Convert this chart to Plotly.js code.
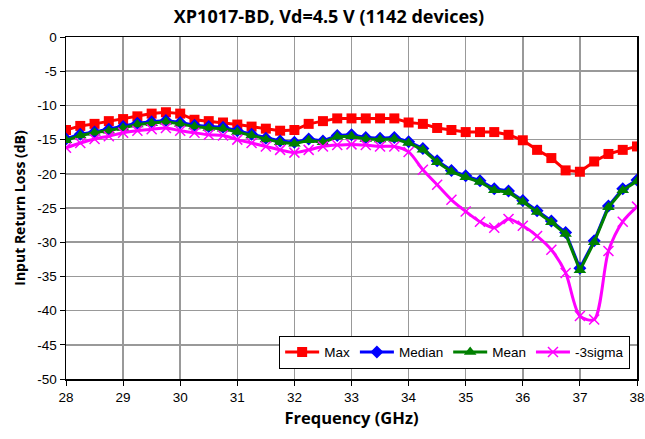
<!DOCTYPE html>
<html>
<head>
<meta charset="utf-8">
<script src="https://cdn.plot.ly/plotly-3.0.1.min.js"></script>
<style>html,body{margin:0;padding:0;background:#fff;}#chart{width:645px;height:439px;}</style>
</head>
<body>
<div id="chart"></div>
<script>
const freq = [28,28.25,28.5,28.75,29,29.25,29.5,29.75,30,30.25,30.5,30.75,31,31.25,31.5,31.75,32,32.25,32.5,32.75,33,33.25,33.5,33.75,34,34.25,34.5,34.75,35,35.25,35.5,35.75,36,36.25,36.5,36.75,37,37.25,37.5,37.75,38];
const maxVals = [-13.6,-13.0,-12.7,-12.3,-12.0,-11.6,-11.2,-11.0,-11.2,-12.1,-12.3,-12.5,-12.8,-13.1,-13.4,-13.7,-13.6,-12.7,-12.3,-11.9,-11.9,-11.9,-11.9,-11.9,-12.5,-12.7,-13.3,-13.6,-13.9,-13.9,-13.9,-14.3,-15.1,-16.5,-17.7,-19.5,-19.7,-18.2,-17.1,-16.5,-16.0];
const medianVals = [-14.9,-14.2,-13.9,-13.5,-13.1,-12.6,-12.4,-12.2,-12.5,-12.9,-13.1,-13.2,-13.7,-14.2,-14.8,-15.2,-15.4,-14.9,-15.2,-14.4,-14.3,-14.7,-14.8,-14.7,-15.3,-16.3,-18.1,-19.5,-20.3,-21.0,-22.2,-22.5,-23.9,-25.4,-26.9,-28.6,-33.8,-29.8,-24.7,-22.2,-20.9];
const meanVals = [-15.1,-14.4,-14.0,-13.7,-13.3,-12.8,-12.6,-12.4,-12.7,-13.1,-13.3,-13.4,-13.9,-14.4,-15.0,-15.4,-15.6,-15.1,-15.4,-14.6,-14.5,-14.9,-15.0,-14.9,-15.5,-16.5,-18.3,-19.7,-20.5,-21.2,-22.4,-22.7,-24.1,-25.6,-27.1,-28.8,-34.1,-30.0,-24.9,-22.4,-21.1];
const sigmaVals = [-16.2,-15.5,-14.9,-14.5,-14.0,-13.7,-13.5,-13.3,-13.7,-14.0,-14.3,-14.4,-15.0,-15.5,-16.0,-16.5,-16.9,-16.5,-16.0,-15.8,-15.7,-15.8,-16.0,-16.0,-16.8,-19.4,-21.6,-23.8,-25.5,-27.0,-27.9,-26.6,-27.6,-29.1,-31.1,-34.5,-40.8,-41.3,-31.3,-27.0,-24.8];
const seriesNames = ['Max','Median','Mean','-3sigma'];
const xTicks = [28,29,30,31,32,33,34,35,36,37,38];
const yTicks = [0,-5,-10,-15,-20,-25,-30,-35,-40,-45,-50];

const traces = [
  {x: freq, y: maxVals, name: seriesNames[0], mode: 'lines+markers',
   line: {color: '#ff0000', width: 3}, marker: {symbol: 'square', size: 10, color: '#ff0000'}},
  {x: freq, y: medianVals, name: seriesNames[1], mode: 'lines+markers',
   line: {color: '#0000ff', width: 3}, marker: {symbol: 'diamond', size: 10, color: '#0000ff'}},
  {x: freq, y: meanVals, name: seriesNames[2], mode: 'lines+markers',
   line: {color: '#008000', width: 3}, marker: {symbol: 'triangle-up', size: 11, color: '#008000'}},
  {x: freq, y: sigmaVals, name: seriesNames[3], mode: 'lines+markers',
   line: {color: '#ff00ff', width: 3, shape: 'spline', smoothing: 0.8},
   marker: {symbol: 'x-thin-open', size: 10, color: '#ff00ff', line: {color: '#ff00ff', width: 1.5}}}
];

const titleFont = 'Open Sans, Noto Sans, sans-serif';
const layout = {
  width: 645, height: 439,
  margin: {l: 66, r: 8, t: 37, b: 60},
  paper_bgcolor: '#fff', plot_bgcolor: '#fff',
  font: {family: 'Liberation Sans, Arial, sans-serif', size: 13, color: '#000'},
  title: {text: 'XP1017-BD, Vd=4.5 V (1142 devices)', x: 0.51, xanchor: 'center', y: 0.962, yanchor: 'middle',
          font: {family: titleFont, size: 18, color: '#000', weight: 'bold'}},
  xaxis: {range: [28, 38], tickvals: xTicks, ticktext: xTicks.map(String),
          showgrid: true, gridcolor: '#999', gridwidth: 1.5,
          showline: true, linecolor: '#000', linewidth: 1.5, mirror: true,
          ticks: 'outside', ticklen: 5, tickcolor: '#000', zeroline: false,
          tickfont: {size: 13.5},
          title: {text: 'Frequency (GHz)', standoff: 8, font: {family: titleFont, size: 16.5, weight: 'bold', color: '#000'}}},
  yaxis: {range: [-50, 0], tickvals: yTicks, ticktext: yTicks.map(String),
          showgrid: true, gridcolor: '#999', gridwidth: 1.5,
          showline: true, linecolor: '#000', linewidth: 1.5, mirror: true,
          ticks: 'outside', ticklen: 5, tickcolor: '#000', zeroline: false,
          tickfont: {size: 13.5},
          title: {text: 'Input Return Loss (dB)', standoff: 8, font: {family: titleFont, size: 14, weight: 'bold', color: '#000'}}},
  legend: {orientation: 'h', x: 0.988, xanchor: 'right', y: 0.03, yanchor: 'bottom',
           bgcolor: '#fff', bordercolor: '#000', borderwidth: 1,
           font: {family: 'Liberation Sans, Arial, sans-serif', size: 13.5, color: '#000'},
           itemwidth: 34, tracegroupgap: 0},
  showlegend: true
};

Plotly.newPlot('chart', traces, layout, {displayModeBar: false, staticPlot: true});
</script>
</body>
</html>
